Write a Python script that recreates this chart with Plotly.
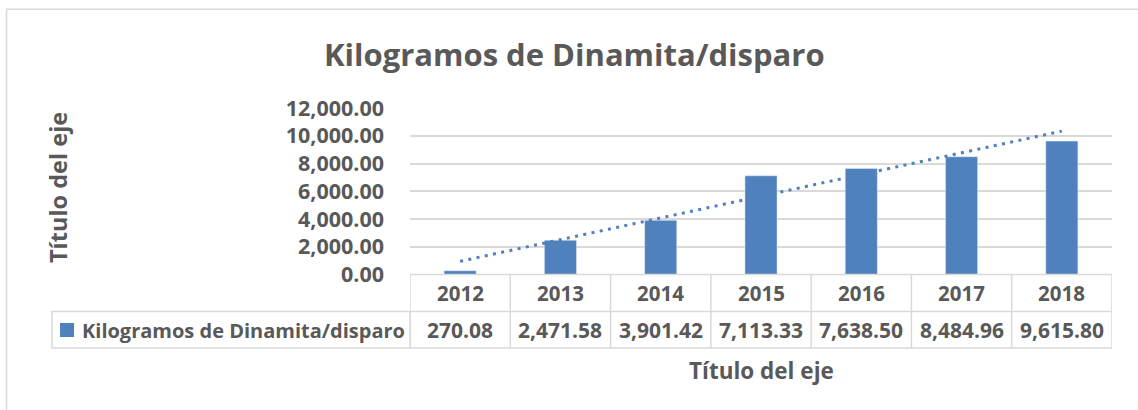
import numpy as np
import plotly.graph_objects as go

years = ["2012", "2013", "2014", "2015", "2016", "2017", "2018"]
values = [270.08, 2471.58, 3901.42, 7113.33, 7638.50, 8484.96, 9615.80]
series_name = "Kilogramos de Dinamita/disparo"
title_text = "Kilogramos de Dinamita/disparo"
axis_title = "Título del eje"
y_ticks = [0, 2000, 4000, 6000, 8000, 10000, 12000]

W, H = 1138, 410
BLUE = "#4F81BD"
TXT = "#595959"
GRID = "#D9D9D9"
FONT = "Open Sans"


def py(p):
    return 1 - p / H


def px(p):
    return p / W


# linear trendline (Excel-style) computed from the values
idx = np.arange(len(values))
slope, intercept = np.polyfit(idx, values, 1)
trend = [intercept + slope * idx[0], intercept + slope * idx[-1]]

fig = go.Figure()
fig.add_trace(go.Bar(x=years, y=values, name=series_name, marker_color=BLUE,
                     width=0.32, showlegend=False))
fig.add_trace(go.Scatter(x=[years[0], years[-1]], y=trend, mode="lines",
                         line=dict(color=BLUE, width=3, dash="3px,5.4px"),
                         showlegend=False, hoverinfo="skip"))

x_dom = [px(410), px(1112)]
y_dom = [py(274.5), py(108)]

shapes = []
line_style = dict(color=GRID, width=1.5)
# table horizontal lines
for yy in [274.5, 311.5, 348]:
    shapes.append(dict(type="line", xref="x", yref="paper", x0=-0.5, x1=len(years) - 0.5,
                       y0=py(yy), y1=py(yy), line=line_style))
# table vertical lines
for i in range(len(years) + 1):
    shapes.append(dict(type="line", xref="x", yref="paper", x0=i - 0.5, x1=i - 0.5,
                       y0=py(274.5), y1=py(348), line=line_style))
# legend cell
shapes.append(dict(type="rect", xref="paper", yref="paper", x0=px(52), x1=px(410),
                   y0=py(348), y1=py(311.5), line=line_style))
shapes.append(dict(type="rect", xref="paper", yref="paper", x0=px(60), x1=px(74),
                   y0=py(337), y1=py(323), line=dict(width=0), fillcolor=BLUE))
# outer chart border
shapes.append(dict(type="rect", xref="paper", yref="paper", x0=px(6.5), x1=px(1150),
                   y0=py(420), y1=py(9.3), line=dict(color=GRID, width=1.5)))

annotations = []
for i, yr in enumerate(years):
    annotations.append(dict(x=i, y=py(293), xref="x", yref="paper", text=f"<b>{yr}</b>",
                            xanchor="center", yanchor="middle",
                            showarrow=False, font=dict(family=FONT, size=20.5, color=TXT)))
    annotations.append(dict(x=i, y=py(330), xref="x", yref="paper",
                            text=f"<b>{values[i]:,.2f}</b>",
                            xanchor="center", yanchor="middle",
                            showarrow=False, font=dict(family=FONT, size=21, color=TXT)))
annotations.append(dict(x=px(80), y=py(330), xref="paper", yref="paper", xanchor="left",
                        yanchor="middle",
                        text=f"<b>{series_name}</b>", showarrow=False,
                        font=dict(family=FONT, size=20, color=TXT)))
annotations.append(dict(x=px(761), y=py(370), xref="paper", yref="paper",
                        xanchor="center", yanchor="middle",
                        text=f"<b>{axis_title}</b>", showarrow=False,
                        font=dict(family=FONT, size=22.5, color=TXT)))
annotations.append(dict(x=px(58), y=py(188), xref="paper", yref="paper", textangle=-90,
                        xanchor="center", yanchor="middle",
                        text=f"<b>{axis_title}</b>", showarrow=False,
                        font=dict(family=FONT, size=23.5, color=TXT)))
annotations.append(dict(x=px(574), y=py(54), xref="paper", yref="paper",
                        xanchor="center", yanchor="middle",
                        text=f"<b>{title_text}</b>", showarrow=False,
                        font=dict(family=FONT, size=31, color=TXT)))

fig.update_layout(
    width=W, height=H,
    margin=dict(l=0, r=0, t=0, b=0),
    paper_bgcolor="white", plot_bgcolor="white",
    xaxis=dict(type="category", domain=x_dom, range=[-0.5, len(years) - 0.5],
               showticklabels=False, showgrid=False, zeroline=False,
               showline=False, ticks="", fixedrange=True),
    yaxis=dict(domain=y_dom, range=[0, 12000], tickvals=y_ticks, tickformat=",.2f",
               showgrid=True, gridcolor=GRID, gridwidth=1.5, zeroline=False, showline=False,
               ticks="", ticklabelstandoff=25, automargin=False,
               tickfont=dict(family=FONT, size=21.5, color=TXT, weight="bold")),
    shapes=shapes, annotations=annotations, showlegend=False,
)

fig.write_html("out.html", config={"displayModeBar": False},
               post_script="document.body.style.margin='0';")
